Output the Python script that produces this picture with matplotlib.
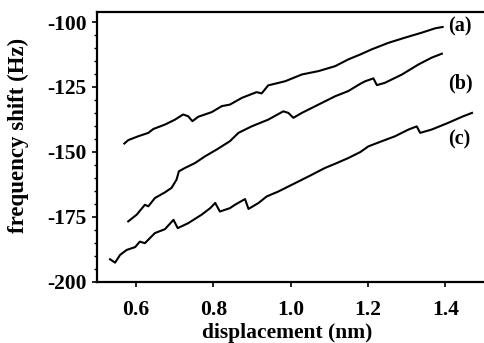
import matplotlib
matplotlib.use('Agg')
import matplotlib.pyplot as plt
from matplotlib.ticker import MultipleLocator

plt.rcParams['font.family'] = ['Liberation Serif', 'DejaVu Serif']
plt.rcParams['font.weight'] = 'bold'
plt.rcParams['axes.unicode_minus'] = False

# curve (a)
xa = [0.570, 0.580, 0.606, 0.632, 0.645, 0.675, 0.701, 0.722, 0.735, 0.746,
      0.761, 0.796, 0.822, 0.843, 0.874, 0.912, 0.925, 0.942, 0.986, 1.029,
      1.072, 1.115, 1.132, 1.149, 1.180, 1.210, 1.253, 1.296, 1.339, 1.374,
      1.393]
ya = [-146.8, -145.5, -144.0, -142.7, -141.2, -139.5, -137.6, -135.6, -136.3, -138.2,
      -136.5, -134.7, -132.4, -131.8, -129.2, -127.0, -127.5, -124.4, -122.8, -120.2,
      -118.9, -117.0, -115.7, -114.4, -112.5, -110.5, -108.0, -106.0, -104.1, -102.4,
      -101.9]

# curve (b)
xb = [0.580, 0.602, 0.623, 0.632, 0.649, 0.675, 0.692, 0.705, 0.711, 0.727,
      0.753, 0.779, 0.809, 0.843, 0.865, 0.899, 0.942, 0.981, 0.994, 1.007,
      1.029, 1.072, 1.115, 1.149, 1.180, 1.193, 1.214, 1.223, 1.244, 1.288,
      1.331, 1.365, 1.391]
yb = [-176.8, -174.2, -170.4, -171.0, -167.8, -165.6, -163.9, -160.7, -157.5, -156.2,
      -154.3, -151.7, -149.1, -145.9, -142.7, -140.2, -137.6, -134.4, -135.0, -136.9,
      -135.0, -131.8, -128.6, -126.6, -123.8, -122.8, -121.7, -124.3, -123.4, -120.2,
      -116.3, -113.7, -112.2]

# curve (c)
xc = [0.533, 0.546, 0.559, 0.576, 0.598, 0.610, 0.623, 0.649, 0.675, 0.697,
      0.708, 0.735, 0.770, 0.792, 0.805, 0.817, 0.843, 0.856, 0.882, 0.891,
      0.917, 0.938, 0.968, 1.003, 1.046, 1.089, 1.115, 1.149, 1.180, 1.201,
      1.236, 1.270, 1.305, 1.326, 1.335, 1.365, 1.408, 1.443, 1.469]
yc = [-191.4, -192.7, -189.7, -187.8, -186.7, -184.6, -185.2, -181.3, -179.8, -176.2,
      -179.4, -177.5, -174.2, -171.7, -169.7, -173.0, -171.7, -170.4, -168.2, -172.0,
      -169.7, -167.2, -165.3, -162.7, -159.5, -156.2, -154.6, -152.4, -150.1, -147.9,
      -145.9, -144.0, -141.4, -140.2, -142.7, -141.4, -138.8, -136.5, -135.0]

curve_labels = ['(a)', '(b)', '(c)']
label_y = [-101.9, -123.5, -145.1]
label_x = 1.406

fig = plt.figure(figsize=(4.84, 3.43), dpi=100)
ax = fig.add_axes([0.201, 0.179, 0.799, 0.787])

for xs, ys in [(xa, ya), (xb, yb), (xc, yc)]:
    ax.plot(xs, ys, color='black', lw=1.5)

for lab, yy in zip(curve_labels, label_y):
    ax.text(label_x, yy, lab, ha='left', va='center', fontsize=14.5, fontweight='bold')

ax.set_xlim(0.5, 1.5)
ax.set_ylim(-200, -96)
ax.set_xticks([0.6, 0.8, 1.0, 1.2, 1.4])
ax.set_xticklabels(['0.6', '0.8', '1.0', '1.2', '1.4'])
ax.set_yticks([-100, -125, -150, -175, -200])
ax.yaxis.set_minor_locator(MultipleLocator(5))

ax.spines['right'].set_visible(False)
for s in ['left', 'bottom', 'top']:
    ax.spines[s].set_linewidth(1.6)

ax.tick_params(axis='both', which='major', labelsize=15.5, width=1.2, length=3.5, direction='out')
ax.tick_params(axis='x', pad=10)
ax.tick_params(axis='y', pad=4)
ax.tick_params(axis='y', which='minor', width=1.0, length=2.5)

ax.set_xlabel('displacement (nm)', fontsize=15.5, fontweight='bold')
ax.set_ylabel('frequency shift (Hz)', fontsize=16.5, fontweight='bold')
ax.xaxis.set_label_coords(0.492, -0.19)
ax.yaxis.set_label_coords(-0.204, 0.543)
ax.xaxis.label.set_va('center')
ax.yaxis.label.set_va('center')

fig.savefig('out.png', dpi=100)
